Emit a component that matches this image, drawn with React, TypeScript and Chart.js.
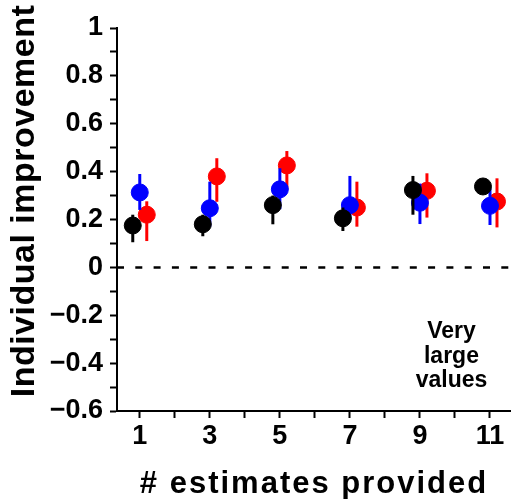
import React, { useEffect, useRef } from "react";
import { Chart, registerables } from "chart.js";

Chart.register(...registerables);

// ---- data ----
const estimates = [1, 3, 5, 7, 9, 11];

const blackY = [0.175, 0.18, 0.26, 0.205, 0.323, 0.338];
const blackLo = [0.105, 0.13, 0.18, 0.152, 0.22, 0.31];
const blackHi = [0.22, 0.22, 0.3, 0.25, 0.382, 0.36];

const blueY = [0.313, 0.247, 0.326, 0.26, 0.27, 0.257];
const blueLo = [0.24, 0.17, 0.243, 0.2, 0.181, 0.177];
const blueHi = [0.39, 0.358, 0.414, 0.382, 0.35, 0.33];

const redY = [0.22, 0.38, 0.426, 0.25, 0.32, 0.275];
const redLo = [0.11, 0.274, 0.326, 0.17, 0.208, 0.167];
const redHi = [0.276, 0.456, 0.486, 0.358, 0.393, 0.372];

const xTicks = [1, 2, 3, 4, 5, 6, 7, 8, 9, 10, 11];
const xTickLabels = ["1", "", "3", "", "5", "", "7", "", "9", "", "11"];

const yTicks = [-0.6, -0.5, -0.4, -0.3, -0.2, -0.1, 0, 0.1, 0.2, 0.3, 0.4, 0.5, 0.6, 0.7, 0.8, 0.9, 1];
const yTickLabels = ["\u22120.6", "", "\u22120.4", "", "\u22120.2", "", "0", "", "0.2", "", "0.4", "", "0.6", "", "0.8", "", "1"];

const xTitle = "# estimates provided";
const yTitle = "Individual improvement";
const noteLines = ["Very", "large", "values"];

const FONT = '"Liberation Sans", Arial, Helvetica, sans-serif';

function makeSeries(ys: number[], lo: number[], hi: number[], shift: number) {
  return estimates.map((e, i) => ({ x: e + shift, y: ys[i], yMin: lo[i], yMax: hi[i] }));
}

const errorBarPlugin = {
  id: "errorBars",
  beforeDatasetDraw(chart: any, args: any) {
    const ds = chart.data.datasets[args.index];
    const { ctx } = chart;
    const xs = chart.scales.x;
    const ys = chart.scales.y;
    ctx.save();
    ctx.strokeStyle = ds.borderColor;
    ctx.lineWidth = 3;
    ctx.lineCap = "butt";
    ds.data.forEach((p: any) => {
      const px = xs.getPixelForValue(p.x);
      ctx.beginPath();
      ctx.moveTo(px, ys.getPixelForValue(p.yMin));
      ctx.lineTo(px, ys.getPixelForValue(p.yMax));
      ctx.stroke();
    });
    ctx.restore();
  },
};

const overlayPlugin = {
  id: "overlay",
  beforeDatasetsDraw(chart: any) {
    const { ctx, chartArea } = chart;
    const y0 = chart.scales.y.getPixelForValue(0);
    ctx.save();
    ctx.strokeStyle = "#000";
    ctx.lineWidth = 2.5;
    ctx.setLineDash([7, 11.3]);
    ctx.lineDashOffset = 0;
    ctx.beginPath();
    ctx.moveTo(chartArea.left, y0);
    ctx.lineTo(chartArea.right, y0);
    ctx.stroke();
    ctx.restore();
  },
  afterDraw(chart: any) {
    const { ctx, chartArea } = chart;
    ctx.save();
    ctx.fillStyle = "#000";
    // note text
    ctx.font = `bold 23px ${FONT}`;
    ctx.textAlign = "center";
    ctx.textBaseline = "alphabetic";
    const noteX = chart.scales.x.getPixelForValue(9.9);
    noteLines.forEach((t, i) => {
      ctx.fillText(t, noteX, 338 + i * 24.5);
    });
    // x title
    ctx.font = `bold 31px ${FONT}`;
    (ctx as any).letterSpacing = "2px";
    ctx.fillText(xTitle, (chartArea.left + chartArea.right) / 2, 493);
    // y title
    (ctx as any).letterSpacing = "0.5px";
    ctx.font = `bold 34px ${FONT}`;
    ctx.translate(34, 201);
    ctx.rotate(-Math.PI / 2);
    ctx.fillText(yTitle, 0, 0);
    ctx.restore();
  },
};

export default function App() {
  const ref = useRef<HTMLCanvasElement | null>(null);

  useEffect(() => {
    document.body.style.margin = "0";
    const canvas = ref.current;
    if (!canvas) return;
    const tickFont = { family: FONT, size: 27, weight: "bold" as const };
    const chart = new Chart(canvas, {
      type: "scatter",
      data: {
        datasets: [
          {
            data: makeSeries(blackY, blackLo, blackHi, -0.2),
            backgroundColor: "#000000",
            borderColor: "#000000",
            pointRadius: 8.5,
            pointBorderWidth: 1,
          },
          {
            data: makeSeries(blueY, blueLo, blueHi, 0),
            backgroundColor: "#0000ff",
            borderColor: "#0000ff",
            pointRadius: 8.5,
            pointBorderWidth: 1,
          },
          {
            data: makeSeries(redY, redLo, redHi, 0.2),
            backgroundColor: "#ff0000",
            borderColor: "#ff0000",
            pointRadius: 8.5,
            pointBorderWidth: 1,
          },
        ],
      },
      options: {
        animation: false,
        responsive: true,
        maintainAspectRatio: false,
        layout: { autoPadding: false, padding: { top: 28, left: 0, right: 0, bottom: 0 } },
        plugins: { legend: { display: false }, tooltip: { enabled: false } },
        scales: {
          x: {
            type: "linear",
            min: 0.35,
            max: 11.6,
            afterBuildTicks: (s: any) => {
              s.ticks = xTicks.map((v) => ({ value: v }));
            },
            afterFit: (s: any) => {
              s.height = 88;
              s.paddingLeft = 0;
              s.paddingRight = 0;
            },
            ticks: {
              autoSkip: false,
              maxRotation: 0,
              padding: 2,
              color: "#000",
              font: tickFont,
              callback: (_v: any, i: number) => xTickLabels[i],
            },
            grid: { drawOnChartArea: false, tickLength: 7, tickWidth: 2, tickColor: "#000" },
            border: { display: true, color: "#000", width: 2 },
          },
          y: {
            type: "linear",
            min: -0.6,
            max: 1,
            afterBuildTicks: (s: any) => {
              s.ticks = yTicks.map((v) => ({ value: v }));
            },
            afterFit: (s: any) => {
              s.width = 117;
              s.paddingTop = 0;
              s.paddingBottom = 0;
            },
            ticks: {
              autoSkip: false,
              padding: 7,
              color: "#000",
              font: tickFont,
              callback: (_v: any, i: number) => yTickLabels[i],
            },
            grid: { drawOnChartArea: false, tickLength: 7, tickWidth: 2, tickColor: "#000" },
            border: { display: true, color: "#000", width: 2 },
          },
        },
      },
      plugins: [errorBarPlugin, overlayPlugin],
    });
    return () => chart.destroy();
  }, []);

  return (
    <div style={{ position: "relative", width: 511, height: 499 }}>
      <canvas ref={ref} />
    </div>
  );
}
